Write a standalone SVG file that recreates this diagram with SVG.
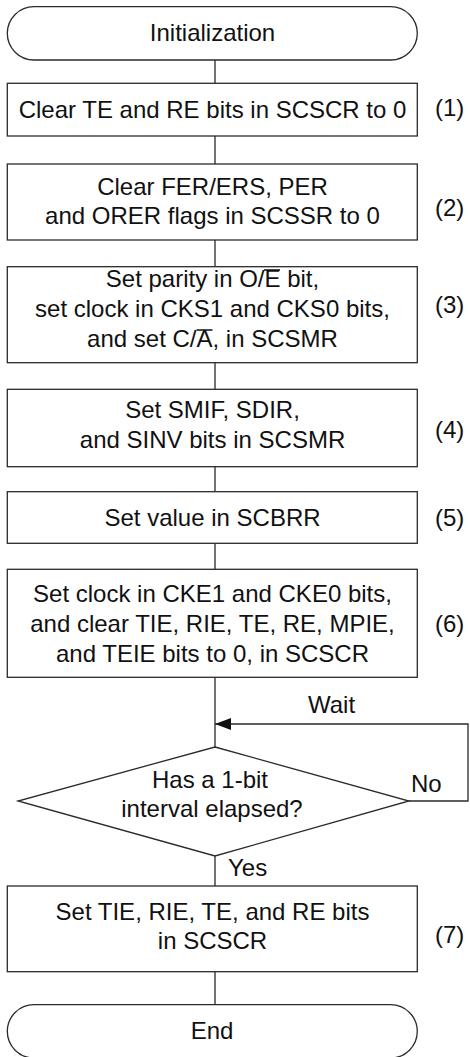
<svg xmlns="http://www.w3.org/2000/svg" width="470" height="1057" viewBox="0 0 470 1057">
<defs>
<style>
.s{fill:#fff;stroke:#2a2a2a;stroke-width:1.3}
.t{font-family:"Liberation Sans",Arial,sans-serif;font-size:24px;fill:#111;text-anchor:middle}
.l{font-family:"Liberation Sans",Arial,sans-serif;font-size:24px;fill:#111}
.c{fill:none;stroke:#2a2a2a;stroke-width:1.3}
.ob{stroke:#111;stroke-width:1.5}
</style>
<marker id="ah" viewBox="0 0 16 12" refX="16" refY="6" markerWidth="16" markerHeight="12" markerUnits="userSpaceOnUse" orient="auto">
<path d="M0,0 L16,6 L0,12 Z" fill="#111"/>
</marker>
</defs>
<g id="connectors">
<path class="c" d="M215,60 V83.3 M215,136 V164 M215,240 V266.7 M215,362.7 V389.3 M215,466.7 V491.7 M215,543.3 V569.3 M215,677.3 V747 M215,856 V886 M215,971.7 V1004.7"/>
<path class="c" d="M409,801 H468 V724 H215" marker-end="url(#ah)"/>
<text class="l" x="308" y="713">Wait</text>
<text class="l" x="411" y="792">No</text>
<text class="l" x="228" y="876">Yes</text>
</g>
<g id="start">
<rect class="s" x="7.3" y="6.7" width="410" height="53.3" rx="26.7" ry="26.7"/>
<text class="t" x="212.5" y="41">Initialization</text>
</g>
<g id="step1">
<rect class="s" x="7.3" y="83.3" width="410" height="52.7"/>
<text class="t" x="212.5" y="118">Clear TE and RE bits in SCSCR to 0</text>
<text class="l" x="435" y="116">(1)</text>
</g>
<g id="step2">
<rect class="s" x="7.3" y="164" width="410" height="76"/>
<text class="t" x="212.5" y="195">Clear FER/ERS, PER</text>
<text class="t" x="212.5" y="224">and ORER flags in SCSSR to 0</text>
<text class="l" x="435" y="216">(2)</text>
</g>
<g id="step3">
<rect class="s" x="7.3" y="266.7" width="410" height="96"/>
<text class="t" x="212.5" y="287">Set parity in O/E bit,</text>
<text class="t" x="212.5" y="317">set clock in CKS1 and CKS0 bits,</text>
<text class="t" x="212.5" y="347">and set C/A, in SCSMR</text>
<line class="ob" x1="264" y1="270" x2="280" y2="270"/>
<line class="ob" x1="196.5" y1="330" x2="212.5" y2="330"/>
<text class="l" x="435" y="313">(3)</text>
</g>
<g id="step4">
<rect class="s" x="7.3" y="389.3" width="410" height="77.4"/>
<text class="t" x="212.5" y="418.3">Set SMIF, SDIR,</text>
<text class="t" x="212.5" y="448.3">and SINV bits in SCSMR</text>
<text class="l" x="435" y="438">(4)</text>
</g>
<g id="step5">
<rect class="s" x="7.3" y="491.7" width="410" height="51.6"/>
<text class="t" x="212.5" y="526">Set value in SCBRR</text>
<text class="l" x="435" y="526">(5)</text>
</g>
<g id="step6">
<rect class="s" x="7.3" y="569.3" width="410" height="108"/>
<text class="t" x="212.5" y="601.7">Set clock in CKE1 and CKE0 bits,</text>
<text class="t" x="212.5" y="631.7">and clear TIE, RIE, TE, RE, MPIE,</text>
<text class="t" x="212.5" y="661.7">and TEIE bits to 0, in SCSCR</text>
<text class="l" x="435" y="631.7">(6)</text>
</g>
<g id="decision">
<path class="s" d="M215,747 L409,801 L215,856 L18,801 Z"/>
<text class="t" x="210" y="788">Has a 1-bit</text>
<text class="t" x="212" y="816.7">interval elapsed?</text>
</g>
<g id="step7">
<rect class="s" x="7.3" y="886" width="410" height="85.7"/>
<text class="t" x="212.5" y="920">Set TIE, RIE, TE, and RE bits</text>
<text class="t" x="212.5" y="949.3">in SCSCR</text>
<text class="l" x="435" y="942.7">(7)</text>
</g>
<g id="end">
<rect class="s" x="7.3" y="1004.7" width="410" height="53.3" rx="26.7" ry="26.7"/>
<text class="t" x="212" y="1039">End</text>
</g>
</svg>
